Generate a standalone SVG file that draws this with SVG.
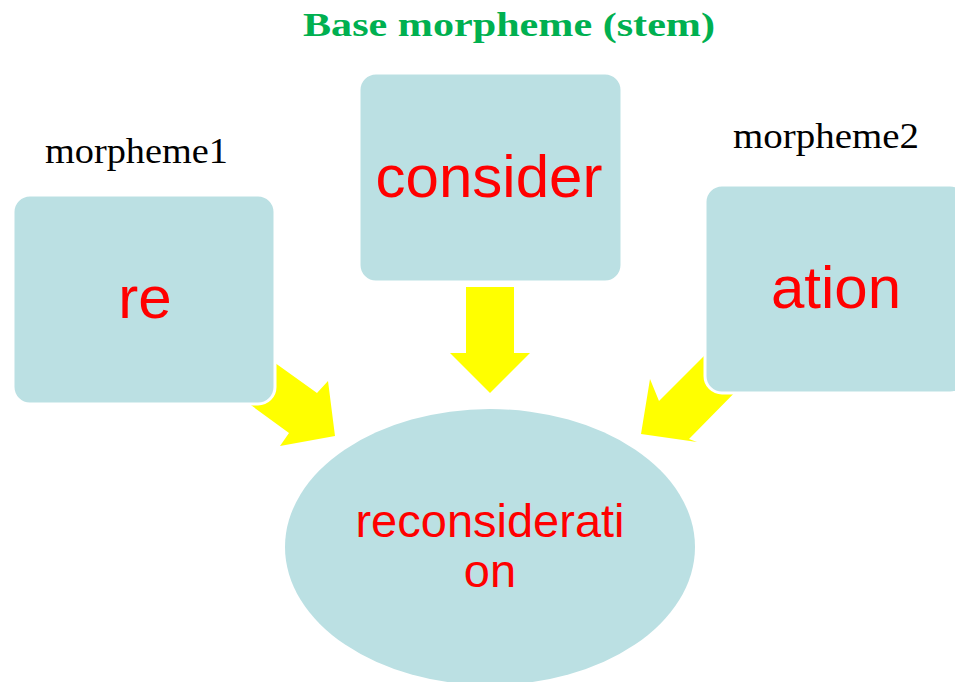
<svg xmlns="http://www.w3.org/2000/svg" width="955" height="682" viewBox="0 0 955 682">
  <style>
    .box { fill: #BBE0E3; stroke: #FFFFFF; stroke-width: 3; }
    .arrow { fill: #FFFF00; stroke: none; }
    .word { font-family: "Liberation Sans", Arial, sans-serif; fill: #FF0000; text-anchor: middle; }
    .label { font-family: "Liberation Serif", "Times New Roman", serif; fill: #000000; font-size: 35px; }
    .title { font-family: "Liberation Serif", "Times New Roman", serif; font-weight: bold; fill: #00B050; font-size: 34px; }
  </style>
  <rect width="955" height="682" fill="#FFFFFF"/>

  <!-- block arrows pointing into the result -->
  <g id="connectors">
    <polygon class="arrow" points="257,350 317,393 328,381 335,436 280,446 289,433 233,392"/>
    <polygon class="arrow" points="466,287 514,287 514,353 530,353 490,393 450,353 466,353"/>
    <polygon class="arrow" points="719,341 659,401 650,379 641,434 697,442 689,439 749,378"/>
  </g>

  <text class="title" x="303" y="36" textLength="412" lengthAdjust="spacingAndGlyphs">Base morpheme (stem)</text>
  <text class="label" x="45" y="163" textLength="183" lengthAdjust="spacingAndGlyphs">morpheme1</text>
  <text class="label" x="733" y="148" textLength="186" lengthAdjust="spacingAndGlyphs">morpheme2</text>

  <g id="node-re">
    <rect class="box" x="13" y="195" width="262" height="209" rx="17"/>
    <text class="word" x="145" y="318" font-size="60">re</text>
  </g>

  <g id="node-consider">
    <rect class="box" x="359" y="73" width="263" height="209" rx="17"/>
    <text class="word" x="489" y="197" font-size="60">consider</text>
  </g>

  <g id="node-ation">
    <rect class="box" x="705" y="185" width="262" height="208" rx="17"/>
    <text class="word" x="836" y="308" font-size="60">ation</text>
  </g>

  <g id="node-result">
    <ellipse cx="490" cy="547" rx="205" ry="138" fill="#BBE0E3"/>
    <text class="word" x="490" y="537" font-size="47">reconsiderati</text>
    <text class="word" x="490" y="587" font-size="47">on</text>
  </g>
</svg>
